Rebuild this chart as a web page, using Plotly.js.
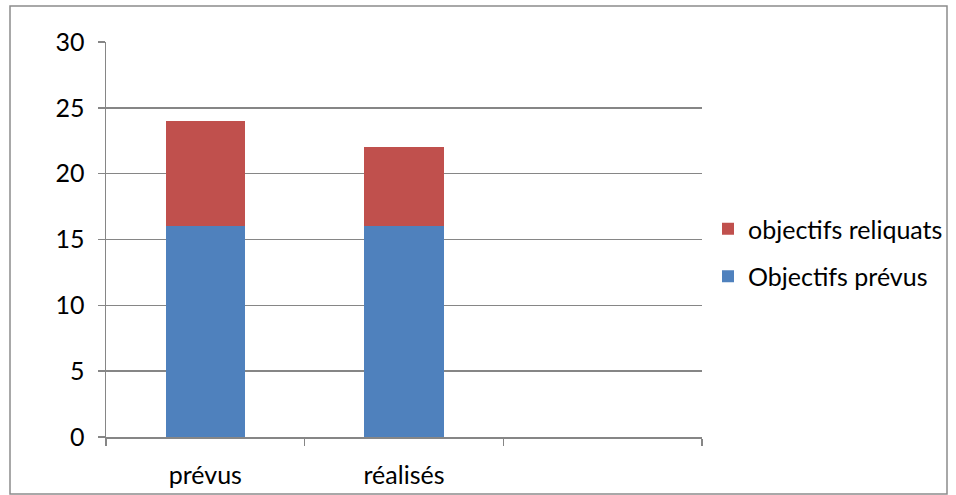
<!DOCTYPE html>
<html><head><meta charset="utf-8">
<script src="https://cdn.plot.ly/plotly-3.0.1.min.js"></script>
<style>html,body{margin:0;padding:0;background:#fff}#chart{width:956px;height:495px}</style>
</head><body><div id="chart"></div>
<script>
const categories = ["prévus", "réalisés", " "];
const objectifsPrevus = [16, 16, null];
const objectifsReliquats = [8, 6, null];
const yTicks = [0, 5, 10, 15, 20, 25, 30];

const L = 106, R = 254, T = 42, B = 58, W = 956, H = 495;
const pw = W - L - R, ph = H - T - B;
const fx = px => (px - L) / pw;
const fy = py => 1 - (py - T) / ph;

const font = {family: "Lato, 'Open Sans', sans-serif", size: 25, color: "#000"};
const traces = [
  {type: "bar", name: "Objectifs prévus", x: categories, y: objectifsPrevus,
   marker: {color: "#4F81BD"}, width: 0.4, legendgroup: "a", legendrank: 2},
  {type: "bar", name: "objectifs reliquats", x: categories, y: objectifsReliquats,
   marker: {color: "#C0504D"}, width: 0.4, legendgroup: "b", legendrank: 1}
];
const layout = {
  width: W, height: H, barmode: "stack",
  margin: {l: L, r: R, t: T, b: B, pad: 0, autoexpand: false},
  paper_bgcolor: "#fff", plot_bgcolor: "#fff",
  font: font, showlegend: true,
  xaxis: {type: "category", range: [-0.5, 2.5], tickson: "boundaries", ticks: "outside",
          ticklen: 7, tickcolor: "#868686", tickwidth: 1.5, showline: true, linecolor: "#868686", linewidth: 1.5,
          showgrid: false, ticklabelstandoff: 15, tickfont: font, fixedrange: true, automargin: false},
  yaxis: {range: [0, 30], tickvals: yTicks, ticks: "outside", ticklen: 7, tickcolor: "#868686", tickwidth: 1.5,
          showline: true, linecolor: "#868686", linewidth: 1.5, showgrid: true,
          gridcolor: "#868686", gridwidth: 1.5, zeroline: false, ticklabelstandoff: 8,
          tickfont: font, fixedrange: true, automargin: false},
  legend: {xref: "container", yref: "container", x: 708 / W, y: 1 - 206 / H, xanchor: "left", yanchor: "top",
           traceorder: "grouped", tracegroupgap: 12, font: font,
           itemwidth: 30, bgcolor: "rgba(0,0,0,0)"},
  shapes: [{type: "rect", xref: "paper", yref: "paper", x0: fx(10), x1: fx(947), y0: fy(6), y1: fy(494),
            line: {color: "#8c8c8c", width: 1.5}, fillcolor: "rgba(0,0,0,0)", layer: "below"}]
};
Plotly.newPlot("chart", traces, layout, {displayModeBar: false, staticPlot: true});
</script></body></html>
